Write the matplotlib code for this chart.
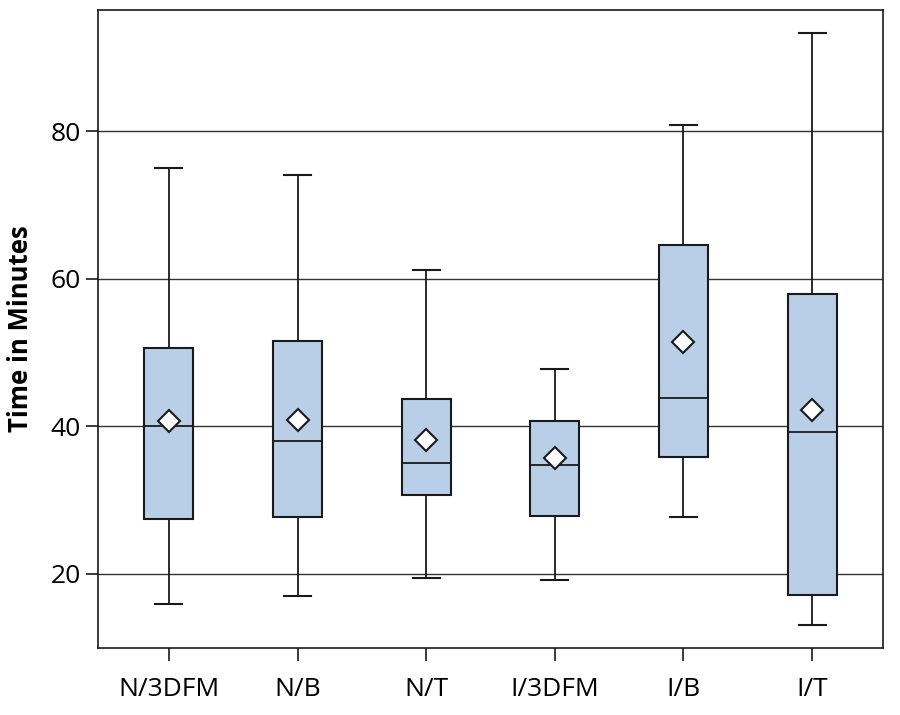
import numpy as np
import matplotlib.pyplot as plt

plt.rcParams['font.family'] = ['Open Sans', 'DejaVu Sans']

groups = ['N/3DFM', 'N/B', 'N/T', 'I/3DFM', 'I/B', 'I/T']
whislo = [15.9, 17.0, 19.5, 19.2, 27.7, 13.1]
q1 = [27.4, 27.7, 30.7, 27.9, 35.9, 17.2]
med = [40.0, 38.0, 35.1, 34.7, 43.8, 39.3]
q3 = [50.6, 51.6, 43.7, 40.7, 64.5, 57.9]
whishi = [75.0, 74.0, 61.2, 47.7, 80.8, 93.3]
means = [40.7, 40.9, 38.1, 35.7, 51.4, 42.2]

stats = []
for i, g in enumerate(groups):
    stats.append({'label': g, 'whislo': whislo[i], 'q1': q1[i], 'med': med[i],
                  'q3': q3[i], 'whishi': whishi[i], 'mean': means[i], 'fliers': []})

fig = plt.figure(figsize=(9, 7.15), dpi=100)
ax = fig.add_axes([0.109, 0.094, 0.872, 0.892])

ax.set_axisbelow(True)
ax.yaxis.grid(True, color='#333333', linewidth=1.0)

pos = np.arange(1, len(groups) + 1)
ax.bxp(stats, positions=pos, widths=0.38, patch_artist=True, showmeans=True,
       showfliers=False,
       boxprops=dict(facecolor='#b9cfe7', edgecolor='#1a1a1a', linewidth=1.5),
       medianprops=dict(color='#1a1a1a', linewidth=1.3),
       whiskerprops=dict(color='#1a1a1a', linewidth=1.3),
       capprops=dict(color='#1a1a1a', linewidth=1.5),
       capwidths=0.21,
       meanprops=dict(marker='D', markerfacecolor='white', markeredgecolor='#1a1a1a',
                      markersize=11, markeredgewidth=1.5))

ax.set_xlim(0.45, 6.55)
ax.set_ylim(10.0, 96.4)
ax.set_yticks([20, 40, 60, 80])
ax.set_xticks(pos)
ax.set_xticklabels(groups)
ax.tick_params(axis='both', labelsize=19, length=9, width=1.2, color='#1a1a1a')
ax.tick_params(axis='x', pad=12)
ax.set_ylabel('Time in Minutes', fontsize=18.5, fontweight='bold', labelpad=12)
for s in ax.spines.values():
    s.set_linewidth(1.2)
    s.set_color('#1a1a1a')

fig.savefig('out.png', dpi=100)
